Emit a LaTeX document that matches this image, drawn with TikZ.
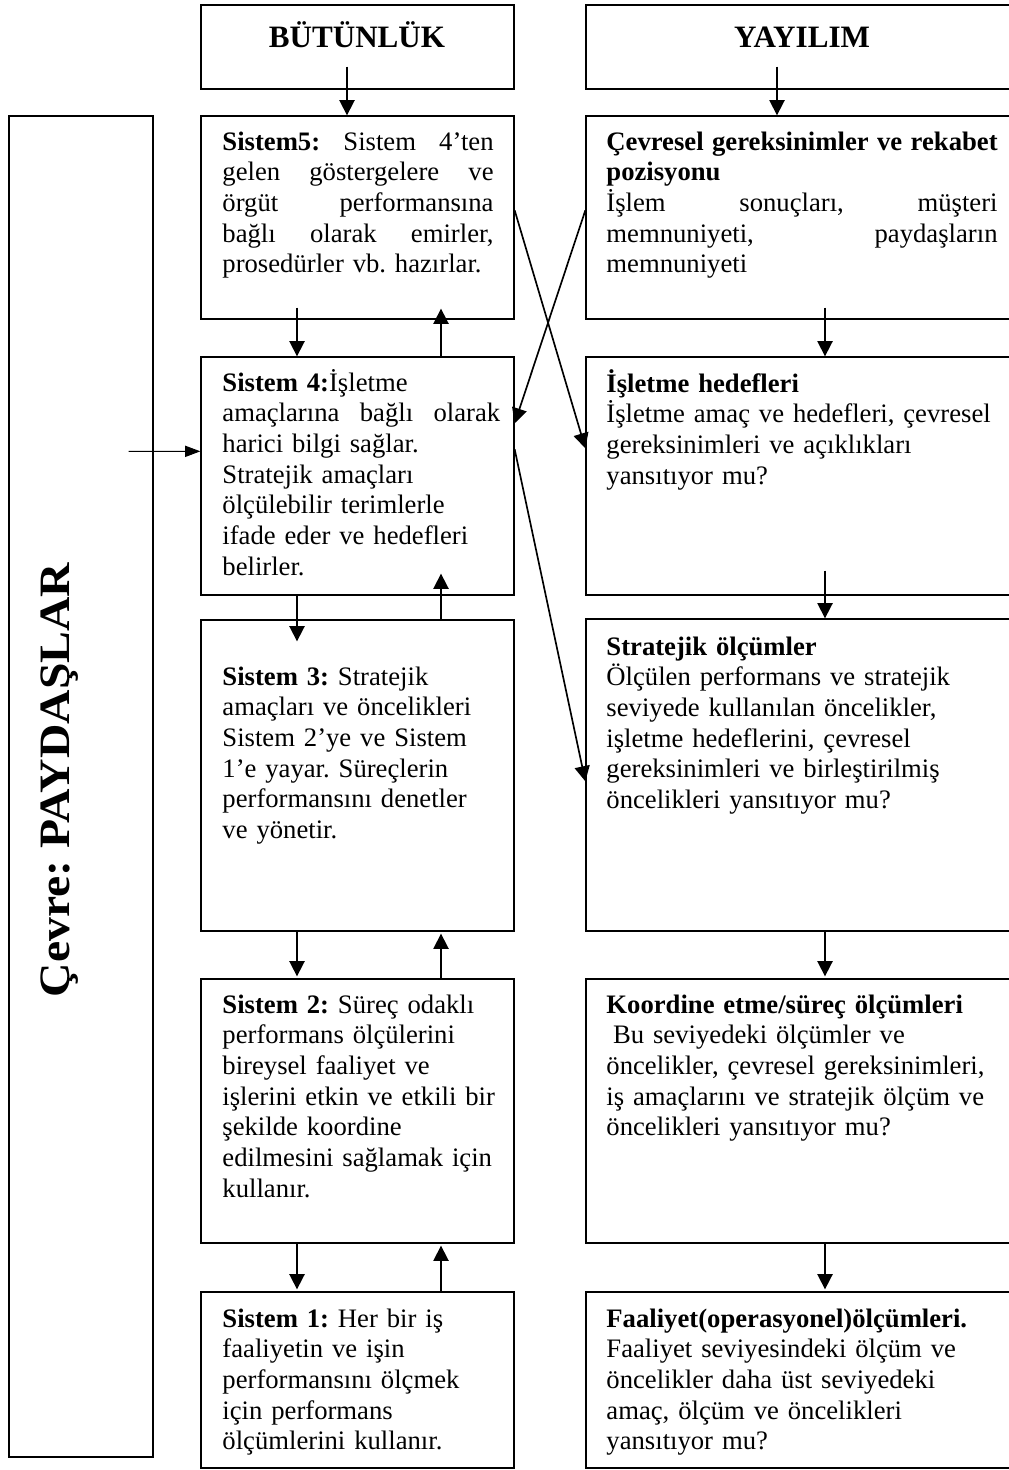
\documentclass[tikz,border=0pt]{standalone}
\usepackage{fontspec}
\usepackage{graphicx}
\setmainfont{Liberation Serif}
\usetikzlibrary{arrows.meta,calc,fit}

% first-line strut and a justified (stretched) line
\newcommand\topstrut{\rule{0pt}{12pt}}
\newcommand\jline[2]{\makebox[#1][s]{\spaceskip=0.25em plus 1fil\relax #2}}

\begin{document}
\begin{tikzpicture}[x=0.45pt,y=-0.45pt,
  box/.style={draw, line width=0.6pt, inner sep=0pt},
  arr/.style={line width=0.75pt, -{Triangle[length=6.8pt,width=6.8pt]}},
  thinarr/.style={line width=0.45pt, -{Triangle[length=6.8pt,width=5pt]}},
  txtL/.style={anchor=north west, inner sep=0pt, text width=135pt, align=left,
    font=\fontsize{12}{13.8}\selectfont\frenchspacing},
  txtR/.style={anchor=north west, inner sep=0pt, text width=182pt, align=left,
    font=\fontsize{12}{13.8}\selectfont\frenchspacing},
  head/.style={anchor=base, inner sep=0pt, font=\fontsize{14}{16}\selectfont\bfseries},
]
\useasboundingbox (0,0) rectangle (1008,1470);

% frames
\node[box, fit={(201,5) (514,89)}] (hl) {};
\node[box, fit={(586,5) (1018,89)}] (hr) {};
\node[box, fit={(201,116) (514,319)}] (s5) {};
\node[box, fit={(201,357) (514,595)}] (s4) {};
\node[box, fit={(201,620) (514,931)}] (s3) {};
\node[box, fit={(201,979) (514,1243)}] (s2) {};
\node[box, fit={(201,1292) (514,1468)}] (s1) {};
\node[box, fit={(586,116) (1018,319)}] (r1) {};
\node[box, fit={(586,357) (1018,595)}] (r2) {};
\node[box, fit={(586,619) (1018,931)}] (r3) {};
\node[box, fit={(586,979) (1018,1243)}] (r4) {};
\node[box, fit={(586,1292) (1018,1468)}] (r5) {};
\node[box, fit={(9,116) (153,1457)}] (env) {};

% headings
\node[head] (hlt) at (357,48) {BÜTÜNLÜK};
\node[head] (hrt) at (802,48) {YAYILIM};
\node[rotate=90, anchor=base, inner sep=0pt,
  font=\fontsize{19.5}{20}\selectfont\bfseries\frenchspacing] (envt) at (69,780)
  {\scalebox{1.1}[1]{Çevre: PAYDAŞLAR}};

% left column texts
\node[txtL] (t5) at (222,123) {\topstrut\jline{122pt}{\textbf{Sistem5:} Sistem 4’ten}\\
  \jline{122pt}{gelen göstergelere ve}\\
  \jline{122pt}{örgüt performansına}\\
  \jline{122pt}{bağlı olarak emirler,}\\
  prosedürler vb. hazırlar.};
\node[txtL] (t4) at (222,364) {\topstrut\textbf{Sistem 4:}İşletme\\
  \jline{125pt}{amaçlarına bağlı olarak}\\ harici bilgi sağlar.\\ Stratejik amaçları\\
  ölçülebilir terimlerle\\ ifade eder ve hedefleri\\ belirler.};
\node[txtL] (t3) at (222,658) {\topstrut\textbf{Sistem 3:} Stratejik\\
  amaçları ve öncelikleri\\ Sistem 2’ye ve Sistem\\ 1’e yayar. Süreçlerin\\
  performansını denetler\\ ve yönetir.};
\node[txtL] (t2) at (222,986) {\topstrut\textbf{Sistem 2:} Süreç odaklı\\
  performans ölçülerini\\ bireysel faaliyet ve\\ işlerini etkin ve etkili bir\\
  şekilde koordine\\ edilmesini sağlamak için\\ kullanır.};
\node[txtL] (t1) at (222,1300) {\topstrut\textbf{Sistem 1:} Her bir iş\\
  faaliyetin ve işin\\ performansını ölçmek\\ için performans\\
  ölçümlerini kullanır.};

% right column texts
\node[txtR] (u1) at (606,123) {\topstrut\jline{176pt}{\textbf{Çevresel gereksinimler ve rekabet}}\\
  \textbf{pozisyonu}\\
  \jline{176pt}{İşlem sonuçları, müşteri}\\
  \jline{176pt}{memnuniyeti, paydaşların}\\
  memnuniyeti};
\node[txtR] (u2) at (606,365) {\topstrut\textbf{İşletme hedefleri}\\
  İşletme amaç ve hedefleri, çevresel\\ gereksinimleri ve açıklıkları\\
  yansıtıyor mu?};
\node[txtR] (u3) at (606,628) {\topstrut\textbf{Stratejik ölçümler}\\
  Ölçülen performans ve stratejik\\ seviyede kullanılan öncelikler,\\
  işletme hedeflerini, çevresel\\ gereksinimleri ve birleştirilmiş\\
  öncelikleri yansıtıyor mu?};
\node[txtR] (u4) at (606,986) {\topstrut\textbf{Koordine etme/süreç ölçümleri}\\
  \hspace*{3pt}Bu seviyedeki ölçümler ve\\ öncelikler, çevresel gereksinimleri,\\
  iş amaçlarını ve stratejik ölçüm ve\\ öncelikleri yansıtıyor mu?};
\node[txtR] (u5) at (606,1300) {\topstrut\textbf{Faaliyet(operasyonel)ölçümleri.}\\
  Faaliyet seviyesindeki ölçüm ve\\ öncelikler daha üst seviyedeki\\
  amaç, ölçüm ve öncelikleri\\ yansıtıyor mu?};

% arrow columns
\coordinate (ch) at (347,0);
\coordinate (chr) at (777,0);
\coordinate (ca) at (297,0);
\coordinate (cb) at (441,0);
\coordinate (cc) at (825,0);

% vertical connectors
\draw[arr] ($(hl.south -| ch)+(0,-23)$) -- (s5.north -| ch);
\draw[arr] ($(hr.south -| chr)+(0,-23)$) -- (r1.north -| chr);
\draw[arr] ($(s5.south -| ca)+(0,-12)$) -- (s4.north -| ca);
\draw[arr] (s4.north -| cb) -- ($(s5.south -| cb)+(0,-11)$);
\draw[arr] (s4.south -| ca) -- ($(s3.north -| ca)+(0,22)$);
\draw[arr] (s3.north -| cb) -- ($(s4.south -| cb)+(0,-22)$);
\draw[arr] (s3.south -| ca) -- ($(s2.north -| ca)+(0,-2)$);
\draw[arr] (s2.north -| cb) -- ($(s3.south -| cb)+(0,2)$);
\draw[arr] (s2.south -| ca) -- ($(s1.north -| ca)+(0,-2)$);
\draw[arr] (s1.north -| cb) -- ($(s2.south -| cb)+(0,2)$);
\draw[arr] ($(r1.south -| cc)+(0,-12)$) -- (r2.north -| cc);
\draw[arr] ($(r2.south -| cc)+(0,-25)$) -- (r3.north -| cc);
\draw[arr] (r3.south -| cc) -- ($(r4.north -| cc)+(0,-2)$);
\draw[arr] (r4.south -| cc) -- ($(r5.north -| cc)+(0,-2)$);

% crossing connectors between the columns
\draw[arr] ($(s5.north east)+(0,95)$) -- ($(r2.north west)+(0,92)$);
\draw[arr] ($(r1.north west)+(0,95)$) -- ($(s4.north east)+(0,67)$);
\draw[arr] ($(s4.north east)+(0,93)$) -- ($(r3.north west)+(0,163)$);

% environment input
\draw[thinarr] ($(env.north east)+(-25,336)$) -- ($(s4.north west)+(0,95)$);
\end{tikzpicture}
\end{document}
